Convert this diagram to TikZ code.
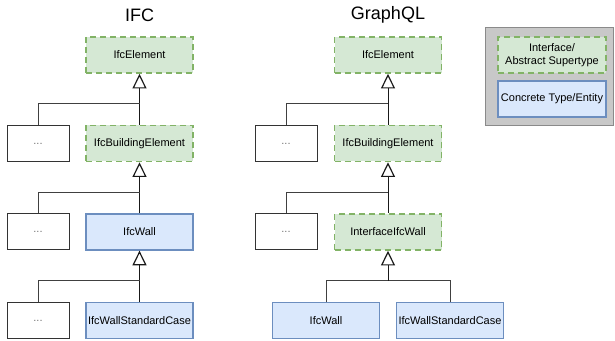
\documentclass[tikz,border=0pt]{standalone}
\usepackage{fontspec}
\setmainfont{Liberation Sans}
\usetikzlibrary{arrows.meta}
\definecolor{absfill}{HTML}{D5E8D4}
\definecolor{absline}{HTML}{82B366}
\definecolor{confill}{HTML}{DAE8FC}
\definecolor{conline}{HTML}{6C8EBF}
\definecolor{legfill}{HTML}{C8C8C8}
\definecolor{legline}{HTML}{8A8A8A}
\tikzset{
  box/.style={rectangle, inner sep=0pt, minimum width=80.25pt, minimum height=27pt,
    font=\fontsize{8.25pt}{10pt}\selectfont, align=center},
  abstract/.style={box, fill=absfill, draw=absline, line width=1.2pt, dash pattern=on 4.5pt off 3pt},
  concrete/.style={box, fill=confill, draw=conline, line width=1pt},
  other/.style={box, minimum width=46.5pt, draw=black!80, line width=0.75pt, text=black!55},
  title/.style={font=\fontsize{13.5pt}{16pt}\selectfont},
  inh/.style={draw=black!90, line width=0.75pt, -{Triangle[open, length=11pt, width=10.5pt, line width=0.9pt]}},
  link/.style={draw=black!75, line width=0.75pt},
}
\begin{document}
\begin{tikzpicture}[x=0.75pt, y=-0.75pt]
  \useasboundingbox (0,0) rectangle (615,341);

  % IFC hierarchy
  \node[title] (tifc) at (139.5,15) {IFC};
  \node[abstract] (ielem) at (139.5,55) {IfcElement};
  \node[abstract] (ibuild) at (139.5,143.5) {IfcBuildingElement};
  \node[other] (idots1) at (38,143.5) {...};
  \node[concrete] (iwall) at (139.5,232) {IfcWall};
  \node[other] (idots2) at (38,232) {...};
  \node[concrete] (iwsc) at (139.5,320.5) {IfcWallStandardCase};
  \node[other] (idots3) at (38,320.5) {...};

  \coordinate (ij1) at (139.5,104);
  \coordinate (ij2) at (139.5,193);
  \coordinate (ij3) at (139.5,281);
  \draw[inh] (ibuild.north) -- (ielem.south);
  \draw[link] (idots1.north) |- (ij1);
  \draw[inh] (iwall.north) -- (ibuild.south);
  \draw[link] (idots2.north) |- (ij2);
  \draw[inh] (iwsc.north) -- (iwall.south);
  \draw[link] (idots3.north) |- (ij3);

  % GraphQL hierarchy
  \node[title] (tgql) at (388,15) {GraphQL};
  \node[abstract] (gelem) at (388,55) {IfcElement};
  \node[abstract] (gbuild) at (388,143.5) {IfcBuildingElement};
  \node[other] (gdots1) at (286,143.5) {...};
  \node[abstract] (giwall) at (388,232) {InterfaceIfcWall};
  \node[other] (gdots2) at (286,232) {...};
  \node[concrete] (gwall) at (326,320.5) {IfcWall};
  \node[concrete] (gwsc) at (450,320.5) {IfcWallStandardCase};

  \coordinate (gj1) at (388,104);
  \coordinate (gj2) at (388,193);
  \coordinate (gj3) at (388,281);
  \draw[inh] (gbuild.north) -- (gelem.south);
  \draw[link] (gdots1.north) |- (gj1);
  \draw[inh] (giwall.north) -- (gbuild.south);
  \draw[link] (gdots2.north) |- (gj2);
  \draw[link] (gwall.north) |- (gj3);
  \draw[link] (gwsc.north) |- (gj3);
  \draw[inh] (gj3) -- (giwall.south);

  % Legend
  \node[rectangle, fill=legfill, draw=legline, line width=0.75pt,
        minimum width=96pt, minimum height=73.5pt] (legend) at (549,77) {};
  \node[abstract, minimum width=81pt] (labs) at (552,55) {Interface/\\Abstract Supertype};
  \node[concrete, minimum width=81pt] (lcon) at (552,99) {Concrete Type/Entity};
\end{tikzpicture}
\end{document}
